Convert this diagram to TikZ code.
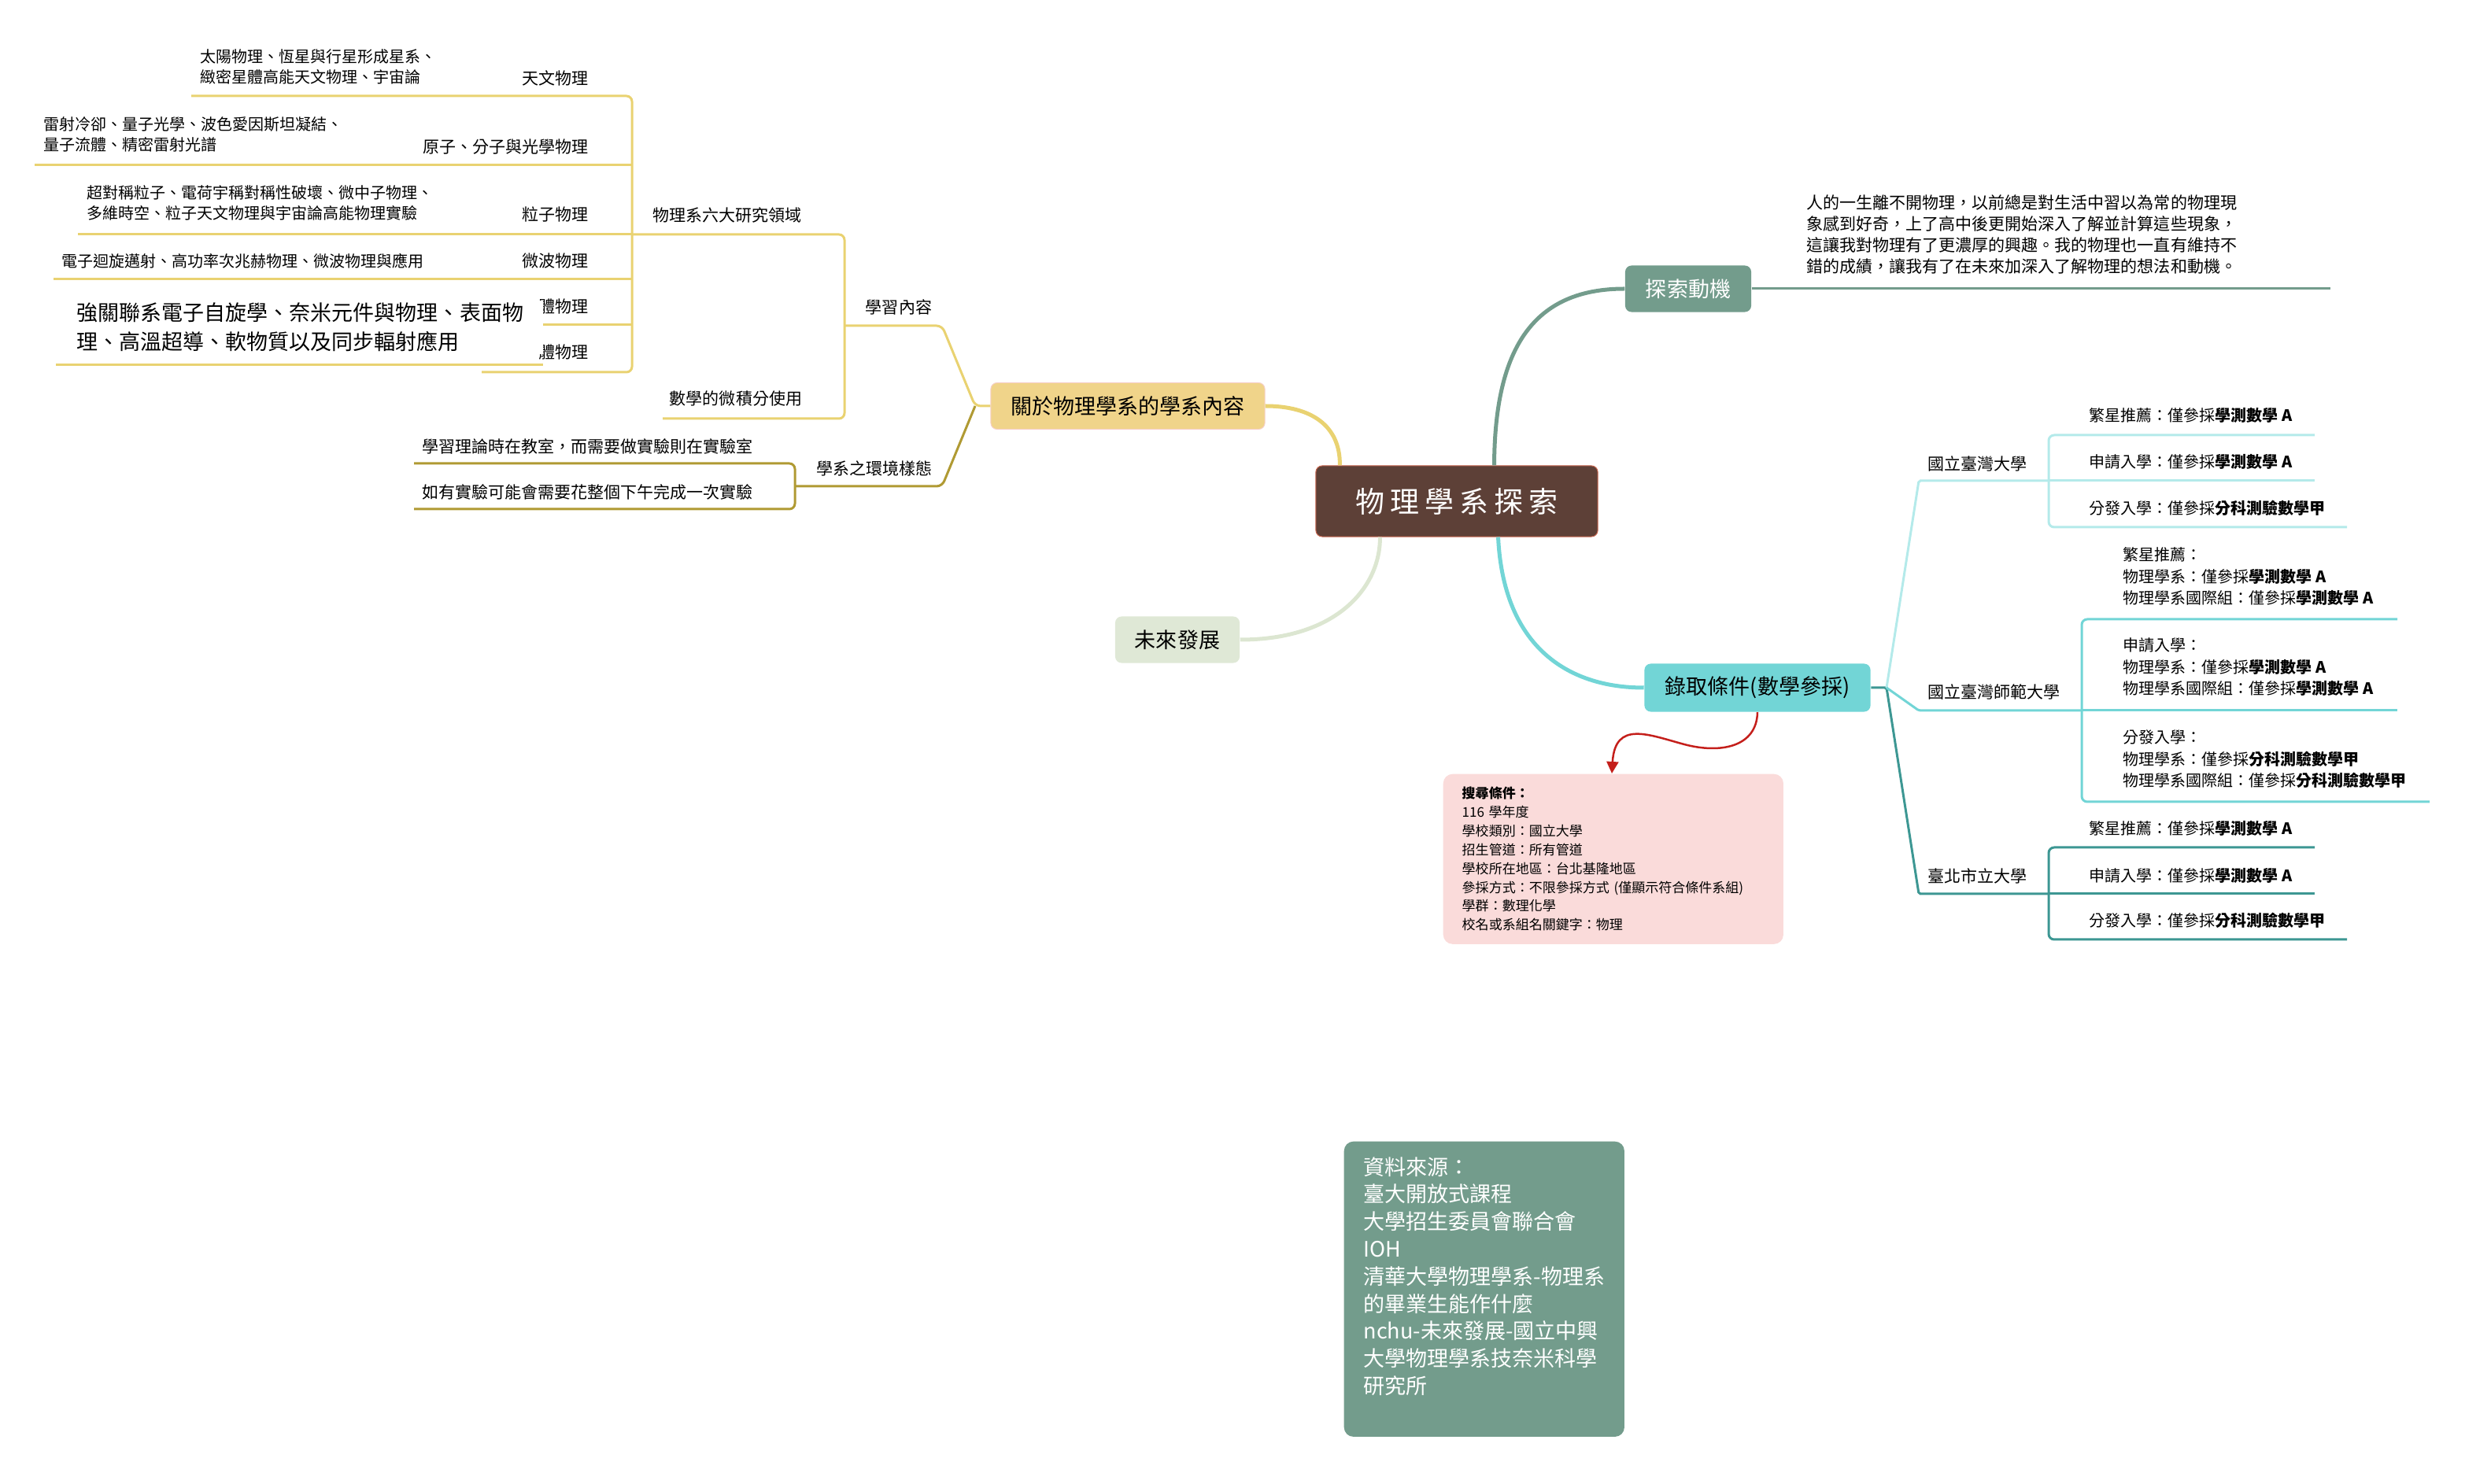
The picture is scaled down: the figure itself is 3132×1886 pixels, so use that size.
\documentclass[tikz,border=0pt]{standalone}
\usepackage{fontspec}
\setmainfont{Noto Sans CJK TC}
\usetikzlibrary{arrows.meta}

\definecolor{brownC}{HTML}{5D4037}
\definecolor{brownE}{HTML}{C8654E}
\definecolor{goldF}{HTML}{F0D48A}
\definecolor{goldE}{HTML}{F6CFC8}
\definecolor{ylw}{HTML}{E9D271}
\definecolor{olive}{HTML}{B09A33}
\definecolor{paleG}{HTML}{DFE8D6}
\definecolor{paleGL}{HTML}{DCE6D1}
\definecolor{sage}{HTML}{739C8C}
\definecolor{turq}{HTML}{72D5D6}
\definecolor{cyanL}{HTML}{B4EAEA}
\definecolor{tealD}{HTML}{3D9793}
\definecolor{pinkF}{HTML}{FADBDA}
\definecolor{redA}{HTML}{C41F1B}

\begin{document}
\begin{tikzpicture}[x=0.01cm, y=-0.01cm,
    topic/.style={rounded corners=0.08cm, inner sep=0pt, font=\fontsize{0.27cm}{0.32cm}\selectfont},
    lbl/.style={inner sep=0pt, font=\fontsize{0.21cm}{0.27cm}\selectfont},
    note/.style={inner sep=0pt, align=left, font=\fontsize{0.20cm}{0.265cm}\selectfont},
    opt/.style={inner sep=0pt, align=left, font=\fontsize{0.20cm}{0.275cm}\selectfont},
    branch/.style={line width=0.05cm},
    twig/.style={line width=0.03cm, rounded corners=0.07cm},
  ]
  \useasboundingbox (0,0) rectangle (3132,1886);

  \node[topic, fill=brownC, draw=brownE, line width=0.01cm, minimum width=3.58cm, minimum height=0.9cm, text=white, font=\fontsize{0.37cm}{0.4cm}\selectfont] (root) at (1851,637) {物\kern0.07cm 理\kern0.07cm 學\kern0.07cm 系\kern0.07cm 探\kern0.07cm 索};
  \node[topic, fill=goldF, draw=goldE, line width=0.01cm, minimum width=3.48cm, minimum height=0.59cm] (about) at (1433,516) {關於物理學系的學系內容};
  \node[topic, fill=paleG, minimum width=1.58cm, minimum height=0.59cm] (future) at (1496,813) {未來發展};
  \node[topic, fill=sage, text=white, minimum width=1.6cm, minimum height=0.59cm] (motive) at (2145,367) {探索動機};
  \node[topic, fill=turq, minimum width=2.87cm, minimum height=0.61cm] (admit) at (2233,874) {錄取條件(數學參採)};

  \draw[branch, ylw] (about.east) .. controls (1665,516) and (1703,540) .. ([xshift=0.31cm]root.north west);
  \draw[branch, paleGL] (future.east) .. controls (1700,813) and (1754,745) .. ([xshift=0.82cm]root.south west);
  \draw[branch, sage] ([xshift=2.27cm]root.north west) .. controls (1899,440) and (1950,367) .. (motive.west);
  \draw[branch, turq] ([xshift=2.32cm]root.south west) .. controls (1910,820) and (1990,874) .. (admit.west);

  \node[lbl, anchor=east] (astro) at (748,99) {天文物理};
  \node[lbl, anchor=east] (amo) at (748,187) {原子、分子與光學物理};
  \node[lbl, anchor=east] (particle) at (748,273) {粒子物理};
  \node[lbl, anchor=east] (micro) at (748,332) {微波物理};
  \node[lbl, anchor=east] (solidA) at (748,390) {體物理};
  \node[lbl, anchor=east] (solidB) at (748,448) {體物理};
  \node[note, anchor=west] (astroD) at (254,85) {太陽物理、恆星與行星形成星系、\\緻密星體高能天文物理、宇宙論};
  \node[note, anchor=west] (amoD) at (55,171) {雷射冷卻、量子光學、波色愛因斯坦凝結、\\量子流體、精密雷射光譜};
  \node[note, anchor=west] (particleD) at (110,258) {超對稱粒子、電荷宇稱對稱性破壞、微中子物理、\\多維時空、粒子天文物理與宇宙論高能物理實驗};
  \node[note, anchor=west] (microD) at (78,332) {電子迴旋邁射、高功率次兆赫物理、微波物理與應用};
  \node[inner xsep=0.25cm, inner ysep=0.03cm, fill=white, align=left, font=\fontsize{0.27cm}{0.37cm}\selectfont, anchor=west] (solidD) at (72,416) {強關聯系電子自旋學、奈米元件與物理、表面物\\理、高溫超導、軟物質以及同步輻射應用};

  \node[lbl] (fields) at (924,273) {物理系六大研究領域};
  \node[lbl] (learn) at (1142,390) {學習內容};
  \node[lbl] (calc) at (935,507) {數學的微積分使用};
  \node[lbl] (env) at (1111,595) {學系之環境樣態};
  \node[lbl, anchor=west] (envA) at (536,567) {學習理論時在教室，而需要做實驗則在實驗室};
  \node[lbl, anchor=west] (envB) at (536,625) {如有實驗可能會需要花整個下午完成一次實驗};

  \coordinate (fkA) at (1239,516);
  \draw[twig, ylw] (about.west) -- (fkA) -- (1197,414) -- (1073,414);
  \draw[twig, ylw] (803,298) -- (1073,298) -- (1073,532) -- (842,532);
  \draw[twig, olive] (fkA) -- (1197,618) -- (1010,618);
  \draw[twig, olive] (526,589) -- (1010,589) -- (1010,647) -- (526,647);
  \draw[twig, ylw] (243,122) -- (803,122) -- (803,473) -- (612,473);
  \draw[twig, ylw] (44,210) -- (803,210);
  \draw[twig, ylw] (99,298) -- (803,298);
  \draw[twig, ylw] (68,355) -- (803,355);
  \draw[twig, ylw] (690,413) -- (803,413);
  \draw[twig, ylw] (71,464) -- (690,464);

  \node[lbl, anchor=west, align=left, font=\fontsize{0.21cm}{0.267cm}\selectfont] (motiveD) at (2295,298) {人的一生離不開物理，以前總是對生活中習以為常的物理現\\象感到好奇，上了高中後更開始深入了解並計算這些現象，\\這讓我對物理有了更濃厚的興趣。我的物理也一直有維持不\\錯的成績，讓我有了在未來加深入了解物理的想法和動機。};
  \draw[twig, sage] (motive.east) -- (2961,367);

  \node[lbl, anchor=west] (ntu) at (2449,589) {國立臺灣大學};
  \node[lbl, anchor=west] (ntnu) at (2449,879) {國立臺灣師範大學};
  \node[lbl, anchor=west] (utaipei) at (2449,1113) {臺北市立大學};
  \node[opt, anchor=west] (ntuA) at (2654,528) {繁星推薦：僅參採\textbf{學測數學 A}};
  \node[opt, anchor=west] (ntuB) at (2654,587) {申請入學：僅參採\textbf{學測數學 A}};
  \node[opt, anchor=west] (ntuC) at (2654,646) {分發入學：僅參採\textbf{分科測驗數學甲}};
  \node[opt, anchor=west] (ntnuA) at (2697,733) {繁星推薦：\\物理學系：僅參採\textbf{學測數學 A}\\物理學系國際組：僅參採\textbf{學測數學 A}};
  \node[opt, anchor=west] (ntnuB) at (2697,848) {申請入學：\\物理學系：僅參採\textbf{學測數學 A}\\物理學系國際組：僅參採\textbf{學測數學 A}};
  \node[opt, anchor=west] (ntnuC) at (2697,965) {分發入學：\\物理學系：僅參採\textbf{分科測驗數學甲}\\物理學系國際組：僅參採\textbf{分科測驗數學甲}};
  \node[opt, anchor=west] (utpA) at (2654,1053) {繁星推薦：僅參採\textbf{學測數學 A}};
  \node[opt, anchor=west] (utpB) at (2654,1113) {申請入學：僅參採\textbf{學測數學 A}};
  \node[opt, anchor=west] (utpC) at (2654,1170) {分發入學：僅參採\textbf{分科測驗數學甲}};

  \coordinate (fkB) at (2397,874);
  \draw[twig, tealD, rounded corners=0.02cm] (admit.east) -- (fkB) -- (2438,1136) -- (2603,1136);
  \draw[twig, cyanL, rounded corners=0.02cm] (fkB) -- (2438,611) -- (2603,611);
  \draw[twig, turq, rounded corners=0.02cm] (fkB) -- (2438,903) -- (2645,903);
  \draw[twig, cyanL] (2941,553) -- (2603,553) -- (2603,670) -- (2982,670);
  \draw[twig, cyanL] (2603,611) -- (2941,611);
  \draw[twig, turq] (3046,787) -- (2645,787) -- (2645,1019) -- (3087,1019);
  \draw[twig, turq] (2645,903) -- (3046,903);
  \draw[twig, tealD] (2941,1077) -- (2603,1077) -- (2603,1194) -- (2982,1194);
  \draw[twig, tealD] (2603,1136) -- (2941,1136);

  \node[fill=pinkF, rounded corners=0.12cm, anchor=north west, text width=3.84cm, inner xsep=0.24cm, inner ysep=0pt, minimum height=2.16cm, align=left, font=\fontsize{0.17cm}{0.238cm}\selectfont] (cond) at (1833,983) {\textbf{搜尋條件：}\\116 學年度\\學校類別：國立大學\\招生管道：所有管道\\學校所在地區：台北基隆地區\\參採方式：不限參採方式 (僅顯示符合條件系組)\\學群：數理化學\\校名或系組名關鍵字：物理};
  \draw[redA, line width=0.025cm, -{Triangle[length=0.15cm, width=0.15cm]}] (admit.south) .. controls (2232,950) and (2185,958) .. (2140,946) .. controls (2095,934) and (2052,915) .. (cond.north -| 2048,0);

  \node[fill=sage, text=white, rounded corners=0.12cm, anchor=north west, text width=3.06cm, inner xsep=0.25cm, inner ysep=0.15cm, minimum height=3.75cm, align=left, font=\fontsize{0.27cm}{0.348cm}\selectfont] (refs) at (1707,1450) {資料來源：\\臺大開放式課程\\大學招生委員會聯合會\\IOH\\\mbox{清華大學物理學系-物理系}\\的畢業生能作什麼\\\mbox{nchu-未來發展-國立中興}\\大學物理學系技奈米科學\\研究所\\\mbox{}};
\end{tikzpicture}
\end{document}
